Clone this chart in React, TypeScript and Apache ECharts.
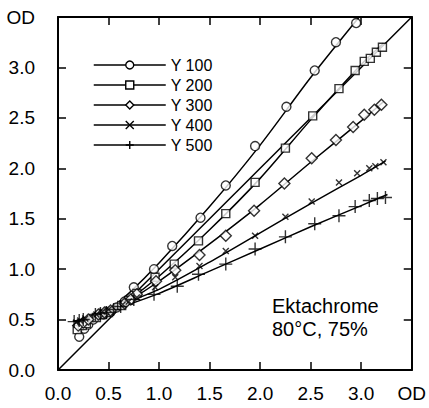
import React, { useEffect, useRef } from 'react';
import * as echarts from 'echarts';

// ---- data ----
const seriesNames = ['Y 100', 'Y 200', 'Y 300', 'Y 400', 'Y 500'];
const xTickLabels = ['0.0', '0.5', '1.0', '1.5', '2.0', '2.5', '3.0', 'OD'];
const yTickLabels = ['0.0', '0.5', '1.0', '1.5', '2.0', '2.5', '3.0', 'OD'];
const noteLines = ['Ektachrome', '80°C, 75%'];
const diagonal: [number, number][] = [[0, 0], [3.5, 3.5]];

const y100Points: [number, number][] = [
  [0.21, 0.33], [0.26, 0.41], [0.3, 0.45], [0.35, 0.5], [0.45, 0.55], [0.52, 0.58],
  [0.58, 0.62], [0.66, 0.68],
  [0.75, 0.82], [0.95, 1.0], [1.13, 1.23], [1.41, 1.51], [1.66, 1.83],
  [1.95, 2.22], [2.26, 2.61], [2.54, 2.97], [2.75, 3.25], [2.95, 3.44],
];
const y200Points: [number, number][] = [
  [0.19, 0.4], [0.24, 0.44], [0.28, 0.46], [0.38, 0.52], [0.44, 0.55], [0.5, 0.57],
  [0.63, 0.64], [0.7, 0.69],
  [0.78, 0.76], [0.96, 0.92], [1.15, 1.05], [1.39, 1.28], [1.66, 1.55],
  [1.95, 1.86], [2.25, 2.2], [2.52, 2.52], [2.78, 2.79], [2.94, 2.97],
  [3.03, 3.06], [3.09, 3.09], [3.15, 3.15], [3.21, 3.2],
];
const y300Points: [number, number][] = [
  [0.2, 0.44], [0.25, 0.47], [0.3, 0.5], [0.4, 0.55], [0.46, 0.57], [0.52, 0.59],
  [0.66, 0.66], [0.72, 0.7],
  [0.78, 0.75], [0.97, 0.88], [1.16, 0.99], [1.4, 1.14], [1.66, 1.33],
  [1.94, 1.58], [2.24, 1.85], [2.51, 2.1], [2.75, 2.28], [2.92, 2.41],
  [3.03, 2.53], [3.13, 2.58], [3.2, 2.63],
];
const y400Points: [number, number][] = [
  [0.18, 0.47], [0.22, 0.49], [0.27, 0.51], [0.38, 0.55], [0.44, 0.58], [0.5, 0.6],
  [0.64, 0.65], [0.7, 0.68],
  [0.78, 0.72], [0.96, 0.82], [1.16, 0.92], [1.4, 1.03], [1.66, 1.18],
  [1.95, 1.33], [2.25, 1.52], [2.51, 1.67], [2.78, 1.86], [2.96, 1.95],
  [3.08, 2.0], [3.14, 2.02], [3.22, 2.06],
];
const y500Points: [number, number][] = [
  [0.16, 0.48], [0.21, 0.49], [0.25, 0.5], [0.37, 0.55], [0.42, 0.56], [0.48, 0.57],
  [0.55, 0.6], [0.62, 0.63],
  [0.75, 0.7], [0.95, 0.75], [1.18, 0.83], [1.39, 0.95], [1.66, 1.05],
  [1.95, 1.2], [2.25, 1.32], [2.54, 1.45], [2.78, 1.53], [2.94, 1.62],
  [3.08, 1.68], [3.16, 1.7], [3.24, 1.71],
];

const y100Fit: [number, number][] = [
  [0.2, 0.36], [0.45, 0.55], [0.7, 0.76], [1.0, 1.06], [1.5, 1.62],
  [2.0, 2.23], [2.5, 2.9], [2.98, 3.5],
];
const y200Fit: [number, number][] = [
  [0.2, 0.4], [0.45, 0.56], [0.7, 0.7], [1.0, 0.93], [1.5, 1.39],
  [2.0, 1.9], [2.5, 2.48], [3.0, 3.03], [3.22, 3.24],
];
const y300Fit: [number, number][] = [
  [0.2, 0.44], [0.45, 0.57], [0.7, 0.69], [1.0, 0.88], [1.5, 1.25],
  [2.0, 1.64], [2.5, 2.06], [3.0, 2.47], [3.22, 2.66],
];
const y400Fit: [number, number][] = [
  [0.18, 0.47], [0.45, 0.58], [0.7, 0.68], [1.0, 0.8], [1.5, 1.07],
  [2.0, 1.36], [2.5, 1.65], [3.0, 1.93], [3.24, 2.07],
];
const y500Fit: [number, number][] = [
  [0.15, 0.48], [0.45, 0.56], [0.7, 0.65], [1.0, 0.76], [1.5, 0.98],
  [2.0, 1.2], [2.5, 1.42], [3.0, 1.63], [3.26, 1.74],
];

const pointSets = [y100Points, y200Points, y300Points, y400Points, y500Points];
const fitSets = [y100Fit, y200Fit, y300Fit, y400Fit, y500Fit];

// ---- styling ----
const FONT = '"Liberation Sans", Arial, Helvetica, sans-serif';
const markerSymbols = [
  'circle',
  'rect',
  'path://M5,0L10,5L5,10L0,5Z',
  'path://M0,0L10,10M10,0L0,10',
  'path://M5,0L5,10M0,5L10,5',
];
const markerSizes = [9, 8, 11, 6, 13];

const axisLineStyle = { color: '#000', width: 2 };
const tickStyle = { show: true, inside: true, length: 8, lineStyle: { color: '#000', width: 1.5 } };

export default function App() {
  const ref = useRef<HTMLDivElement>(null);

  useEffect(() => {
    if (!ref.current) return;
    const chart = echarts.init(ref.current, undefined, { renderer: 'svg' });

    const markerItemStyle = { color: '#fff', borderColor: '#000', borderWidth: 1.4 };

    const fitSeries = seriesNames.map((name, i) => ({
      name,
      type: 'line',
      data: fitSets[i],
      smooth: 0.3,
      symbol: markerSymbols[i],
      showSymbol: false,
      lineStyle: { color: '#000', width: 1.5 },
      itemStyle: markerItemStyle,
      silent: true,
      z: 2,
    }));

    const pointSeries = seriesNames.map((name, i) => ({
      name: name + ' data',
      type: 'scatter',
      data: pointSets[i],
      symbol: markerSymbols[i],
      symbolSize: markerSizes[i],
      itemStyle: markerItemStyle,
      silent: true,
      z: 3,
    }));

    const xAxisBase = {
      type: 'value',
      min: 0,
      max: 3.5,
      interval: 0.5,
      splitLine: { show: false },
      axisLine: { show: true, onZero: false, lineStyle: axisLineStyle },
      axisTick: tickStyle,
    };
    const yAxisBase = { ...xAxisBase };

    chart.setOption({
      animation: false,
      backgroundColor: '#fff',
      grid: { left: 58, right: 14, top: 17, bottom: 38, containLabel: false },
      xAxis: [
        {
          ...xAxisBase,
          position: 'bottom',
          axisLabel: {
            fontSize: 19,
            fontFamily: FONT,
            color: '#000',
            margin: 14,
            formatter: (v: number) => xTickLabels[Math.round(v / 0.5)],
          },
        },
        { ...xAxisBase, position: 'top', axisLabel: { show: false } },
      ],
      yAxis: [
        {
          ...yAxisBase,
          position: 'left',
          axisLabel: {
            fontSize: 19,
            fontFamily: FONT,
            color: '#000',
            margin: 23,
            formatter: (v: number) => yTickLabels[Math.round(v / 0.5)],
          },
        },
        { ...yAxisBase, position: 'right', axisLabel: { show: false } },
      ],
      legend: {
        data: seriesNames,
        orient: 'vertical',
        left: 93,
        top: 57,
        padding: 0,
        itemWidth: 72,
        itemHeight: 10,
        itemGap: 4,
        selectedMode: false,
        textStyle: { fontSize: 16, fontFamily: FONT, color: '#000' },
        itemStyle: { color: '#fff', borderColor: '#000', borderWidth: 1.4 },
        lineStyle: { color: '#000', width: 1.5 },
      },
      graphic: [
        {
          type: 'text',
          left: 272,
          top: 294,
          silent: true,
          style: {
            text: noteLines.join('\n'),
            font: `20px ${FONT}`,
            lineHeight: 23,
            fill: '#000',
          },
        },
      ],
      series: [
        {
          name: 'diagonal',
          type: 'line',
          data: diagonal,
          symbol: 'none',
          lineStyle: { color: '#000', width: 1.5 },
          silent: true,
          z: 1,
        },
        ...fitSeries,
        ...pointSeries,
      ],
    });

    return () => chart.dispose();
  }, []);

  return (
    <div
      ref={ref}
      style={{ position: 'fixed', left: 0, top: 0, width: 429, height: 408, background: '#fff' }}
    />
  );
}
